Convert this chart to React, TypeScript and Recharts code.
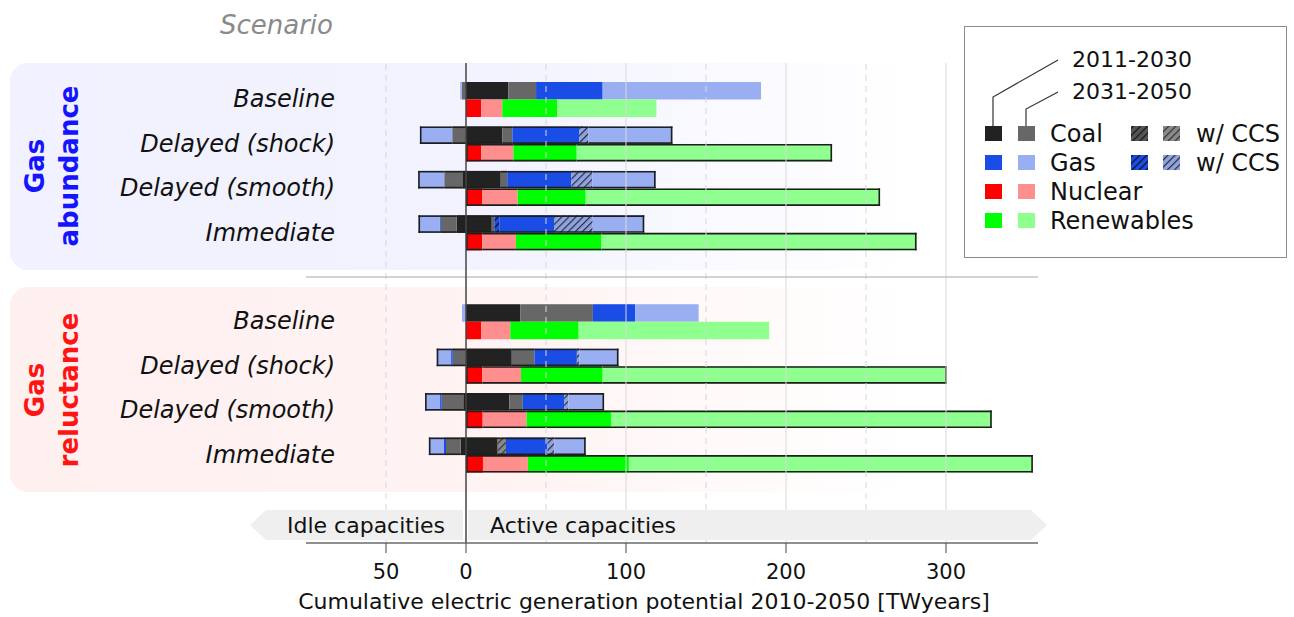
import React from 'react';
import {
  BarChart,
  Bar,
  XAxis,
  YAxis,
  ReferenceLine,
  Legend
} from 'recharts';

const FONT = 'DejaVu Sans';

// one entry per scenario, 'gap' is the empty slot between the two groups
const CATS = ['ab-base', 'ab-shock', 'ab-smooth', 'ab-imm', 'gap', 're-base', 're-shock', 're-smooth', 're-imm'];
const CAT_LABELS = ['Baseline', 'Delayed (shock)', 'Delayed (smooth)', 'Immediate', '', 'Baseline', 'Delayed (shock)', 'Delayed (smooth)', 'Immediate'];
const OUTLINED = [false, true, true, true, false, false, true, true, true];

// fossil row, active capacities (TWyears)
const coal1 = [26.5, 22.7, 21.7, 16.1, null, 33.9, 28.6, 27.1, 19.8];
const coal2 = [17.3, 6.3, 4.1, 1.6, null, 45.4, 14.2, 8.4, 0];
const coal2Ccs = [0, 0, 0, 0, null, 0, 0, 0, 5.2];
const gas1Ccs = [0, 0, 0, 3.1, null, 0, 0, 0, 0];
const gas1 = [41.6, 41.7, 40, 34.2, null, 26.5, 26.5, 25.8, 25.8];
const gas2Ccs = [0, 5.8, 13.1, 24.2, null, 0, 1.6, 2.7, 4.4];
const gas2 = [99, 52.5, 39.6, 32.2, null, 39.6, 24.4, 22.3, 19.6];

// fossil row, idle capacities (negative side)
const coal1Idle = [0, 0, -2.3, -5.8, null, 0, 0, -1.7, -3.3];
const coal2Idle = [-2.6, -8.6, -11.3, -10, null, 0, -8.3, -13.5, -9.2];
const gas1Idle = [0, 0, 0, -0.5, null, 0, -1, -1, -1.3];
const gas2Idle = [-1, -20.2, -16.3, -13.4, null, -2.5, -9, -9.4, -9.4];

// non-fossil row
const nuc1 = [9.6, 9.4, 10, 10.2, null, 9.6, 10.2, 10.4, 10.6];
const nuc2 = [13.1, 20.2, 22.3, 21, null, 18.1, 24.2, 27.5, 28.1];
const ren1 = [34.2, 39.6, 42.5, 53.5, null, 42.7, 51, 52.7, 63.1];
const ren2 = [62.1, 159.6, 184, 196.9, null, 119.1, 215, 238, 252.5];

const X_TICKS = [-50, 0, 100, 200, 300];
const GRID_SOLID = [100, 200, 300];
const GRID_DASHED = [-50, 50, 150, 250];

const COLORS = {
  coal1: '#222222',
  coal2: '#676767',
  gas1: '#1a4ce6',
  gas2: '#99aff2',
  nuc1: '#ff0000',
  nuc2: '#ff8f8f',
  ren1: '#00ff00',
  ren2: '#8fff8f'
};

const FOSSIL_IDLE = ['coal1Idle', 'coal2Idle', 'gas1Idle', 'gas2Idle'];
const FOSSIL_ACTIVE = ['coal1', 'coal2', 'coal2Ccs', 'gas1Ccs', 'gas1', 'gas2Ccs', 'gas2'];
const OTHER = ['nuc1', 'nuc2', 'ren1', 'ren2'];

const FILLS: Record<string, string> = {
  coal1Idle: COLORS.coal1,
  coal2Idle: COLORS.coal2,
  gas1Idle: COLORS.gas1,
  gas2Idle: COLORS.gas2,
  coal1: COLORS.coal1,
  coal2: COLORS.coal2,
  coal2Ccs: 'url(#hatchCoal2)',
  gas1Ccs: 'url(#hatchGas1)',
  gas1: COLORS.gas1,
  gas2Ccs: 'url(#hatchGas2)',
  gas2: COLORS.gas2,
  nuc1: COLORS.nuc1,
  nuc2: COLORS.nuc2,
  ren1: COLORS.ren1,
  ren2: COLORS.ren2
};

const data = CATS.map((cat, i) => ({
  cat,
  label: CAT_LABELS[i],
  outlined: OUTLINED[i],
  coal1Idle: coal1Idle[i],
  coal2Idle: coal2Idle[i],
  gas1Idle: gas1Idle[i],
  gas2Idle: gas2Idle[i],
  coal1: coal1[i],
  coal2: coal2[i],
  coal2Ccs: coal2Ccs[i],
  gas1Ccs: gas1Ccs[i],
  gas1: gas1[i],
  gas2Ccs: gas2Ccs[i],
  gas2: gas2[i],
  nuc1: nuc1[i],
  nuc2: nuc2[i],
  ren1: ren1[i],
  ren2: ren2[i]
}));

const nz = (row: any, k: string) => row[k] != null && Math.abs(row[k]) > 0;

function edges(row: any, group: 'fossil' | 'other') {
  if (group === 'other') {
    const act = OTHER.filter((k) => nz(row, k));
    return { left: act[0], right: act[act.length - 1] };
  }
  const idle = FOSSIL_IDLE.filter((k) => nz(row, k));
  const act = FOSSIL_ACTIVE.filter((k) => nz(row, k));
  return {
    left: idle.length ? idle[idle.length - 1] : act[0],
    right: act.length ? act[act.length - 1] : idle[idle.length - 1]
  };
}

function makeShape(key: string, group: 'fossil' | 'other') {
  return (p: any) => {
    const { x, y, width, height, fill, payload } = p;
    const w = Math.abs(width || 0);
    if (w < 0.01 || !height) return <g />;
    const x0 = Math.min(x, x + width);
    const row = payload || {};
    const e = edges(row, group);
    const sw = 1.6;
    const stroke = '#1e1e1e';
    return (
      <g>
        <rect x={x0} y={y} width={w} height={height} fill={fill} />
        {row.outlined && (
          <g stroke={stroke} strokeWidth={sw}>
            <line x1={x0} x2={x0 + w} y1={y + sw / 2} y2={y + sw / 2} />
            <line x1={x0} x2={x0 + w} y1={y + height - sw / 2} y2={y + height - sw / 2} />
            {e.left === key && <line x1={x0 + sw / 2} x2={x0 + sw / 2} y1={y} y2={y + height} />}
            {e.right === key && <line x1={x0 + w - sw / 2} x2={x0 + w - sw / 2} y1={y} y2={y + height} />}
          </g>
        )}
      </g>
    );
  };
}

function ScenarioTick(props: any) {
  const { x, y, payload } = props;
  const i = CATS.indexOf(payload.value);
  return (
    <text
      x={x + 29}
      y={y}
      textAnchor="end"
      dominantBaseline="central"
      fontFamily={FONT}
      fontStyle="italic"
      fontSize={24}
      fill="#111"
    >
      {CAT_LABELS[i]}
    </text>
  );
}

function Hatch({ id, bg, fg }: { id: string; bg: string; fg: string }) {
  return (
    <pattern id={id} width="5" height="5" patternUnits="userSpaceOnUse" patternTransform="rotate(45)">
      <rect width="5" height="5" fill={bg} />
      <line x1="0" y1="0" x2="0" y2="5" stroke={fg} strokeWidth="2.4" />
    </pattern>
  );
}

function LegendBox() {
  const rows = [
    { name: 'Coal', c1: COLORS.coal1, c2: COLORS.coal2, h1: 'url(#hatchCoal1)', h2: 'url(#hatchCoal2)' },
    { name: 'Gas', c1: COLORS.gas1, c2: COLORS.gas2, h1: 'url(#hatchGas1)', h2: 'url(#hatchGas2)' },
    { name: 'Nuclear', c1: COLORS.nuc1, c2: COLORS.nuc2 },
    { name: 'Renewables', c1: COLORS.ren1, c2: COLORS.ren2 }
  ];
  return (
    <div
      style={{
        width: 323,
        height: 232,
        border: '1.5px solid #8a8a8a',
        background: '#fff',
        boxSizing: 'border-box'
      }}
    >
      <svg width={323} height={232} style={{ position: 'absolute', left: 0, top: 0, overflow: 'visible' }}>
        <g fontFamily={FONT} fill="#111">
          <text x={108} y={41} fontSize={22}>2011-2030</text>
          <text x={108} y={73} fontSize={22}>2031-2050</text>
        </g>
        <polyline points="94,34 29,71 29,100" fill="none" stroke="#333" strokeWidth={1.2} />
        <polyline points="94,66 62,83 62,100" fill="none" stroke="#333" strokeWidth={1.2} />
        {rows.map((r, i) => {
          const cy = 108 + i * 29;
          return (
            <g key={r.name}>
              <rect x={21} y={cy - 8} width={17} height={15} fill={r.c1} />
              <rect x={54} y={cy - 8} width={17} height={15} fill={r.c2} />
              <text x={86} y={cy} dominantBaseline="central" fontFamily={FONT} fontSize={24} fill="#111">
                {r.name}
              </text>
              {r.h1 && (
                <g>
                  <rect x={167} y={cy - 8} width={17} height={15} fill={r.h1} />
                  <rect x={199} y={cy - 8} width={17} height={15} fill={r.h2} />
                  <text x={232} y={cy} dominantBaseline="central" fontFamily={FONT} fontSize={24} fill="#111">
                    w/ CCS
                  </text>
                </g>
              )}
            </g>
          );
        })}
      </svg>
    </div>
  );
}

export default function App() {
  return (
    <div style={{ position: 'absolute', left: 0, top: 0, width: 1294, height: 617, background: '#fff', overflow: 'hidden' }}>
      {/* scenario group panels */}
      <div
        style={{
          position: 'absolute',
          left: 10,
          top: 63,
          width: 900,
          height: 207,
          borderRadius: '18px 0 0 18px',
          background: 'linear-gradient(to right, #f1f1ff 0%, #f3f3ff 55%, rgba(255,255,255,0) 100%)'
        }}
      />
      <div
        style={{
          position: 'absolute',
          left: 10,
          top: 287,
          width: 900,
          height: 205,
          borderRadius: '18px 0 0 18px',
          background: 'linear-gradient(to right, #fff0f0 0%, #fff3f3 55%, rgba(255,255,255,0) 100%)'
        }}
      />

      <div style={{ position: 'absolute', left: 0, top: 0 }}>
        <BarChart
          width={1294}
          height={617}
          data={data}
          layout="vertical"
          stackOffset="sign"
          barGap={0}
          margin={{ top: 63, right: 256, left: 296, bottom: 4 }}
        >
          <defs>
            <Hatch id="hatchCoal1" bg="#555" fg="#111" />
            <Hatch id="hatchCoal2" bg="#8a8a8a" fg="#333" />
            <Hatch id="hatchGas1" bg={COLORS.gas1} fg="#111" />
            <Hatch id="hatchGas2" bg="#8ea3e0" fg="#2a2a3a" />
          </defs>
          <XAxis
            type="number"
            domain={[-100, 357.5]}
            ticks={X_TICKS}
            tickFormatter={(v: number) => String(Math.abs(v))}
            height={70}
            tickSize={10}
            tickMargin={11}
            axisLine={{ stroke: '#6a6a6a', strokeWidth: 1.5 }}
            tickLine={{ stroke: '#444' }}
            tick={{ fontSize: 21, fill: '#111', fontFamily: FONT }}
            label={{
              value: 'Cumulative electric generation potential 2010-2050 [TWyears]',
              position: 'insideBottom',
              offset: 4,
              dx: -28,
              fontSize: 22,
              fill: '#111',
              fontFamily: FONT
            }}
          />
          <YAxis
            type="category"
            dataKey="cat"
            width={10}
            axisLine={false}
            tickLine={false}
            tickSize={0}
            tickMargin={0}
            interval={0}
            padding={{ top: 14, bottom: 66 }}
            tick={<ScenarioTick />}
          />
          {GRID_DASHED.map((v) => (
            <ReferenceLine key={'d' + v} x={v} stroke="#d6d6e0" strokeDasharray="6 5" />
          ))}
          {GRID_SOLID.map((v) => (
            <ReferenceLine key={'s' + v} x={v} stroke="#d9d9d9" />
          ))}
          <ReferenceLine y="gap" stroke="#a8a8a8" strokeWidth={1.2} />
          {FOSSIL_IDLE.concat(FOSSIL_ACTIVE).map((k) => (
            <Bar
              key={k}
              dataKey={k}
              stackId="fossil"
              barSize={17.5}
              fill={FILLS[k]}
              isAnimationActive={false}
              shape={makeShape(k, 'fossil')}
            />
          ))}
          {OTHER.map((k) => (
            <Bar
              key={k}
              dataKey={k}
              stackId="other"
              barSize={17.5}
              fill={FILLS[k]}
              isAnimationActive={false}
              shape={makeShape(k, 'other')}
            />
          ))}
          <ReferenceLine x={0} stroke="#444" strokeWidth={1.5} />
          <Legend
            layout="horizontal"
            verticalAlign="middle"
            align="center"
            content={<LegendBox />}
            wrapperStyle={{ position: 'absolute', left: 964, top: 26, width: 323, height: 232 }}
          />
        </BarChart>
      </div>

      {/* labels and the idle / active banner */}
      <svg width={1294} height={617} style={{ position: 'absolute', left: 0, top: 0, pointerEvents: 'none' }}>
        <text x={333} y={34} textAnchor="end" fontFamily={FONT} fontStyle="italic" fontSize={26} fill="#8a8a8a">
          Scenario
        </text>
        <g fontFamily={FONT} fontWeight="bold" fontSize={26} textAnchor="middle">
          <text transform="translate(44,166) rotate(-90)" fill="#1414ff">Gas</text>
          <text transform="translate(78,166) rotate(-90)" fill="#1414ff">abundance</text>
          <text transform="translate(44,390) rotate(-90)" fill="#ff1414">Gas</text>
          <text transform="translate(78,390) rotate(-90)" fill="#ff1414">reluctance</text>
        </g>
        <polygon points="250,525 266,510 463,510 463,540 266,540" fill="#efefef" />
        <polygon points="468,510 1031,510 1047,525 1031,540 468,540" fill="#efefef" />
        <g fontFamily={FONT} fontSize={22} fill="#111">
          <text x={287} y={533}>Idle capacities</text>
          <text x={490} y={533}>Active capacities</text>
        </g>
      </svg>
    </div>
  );
}
